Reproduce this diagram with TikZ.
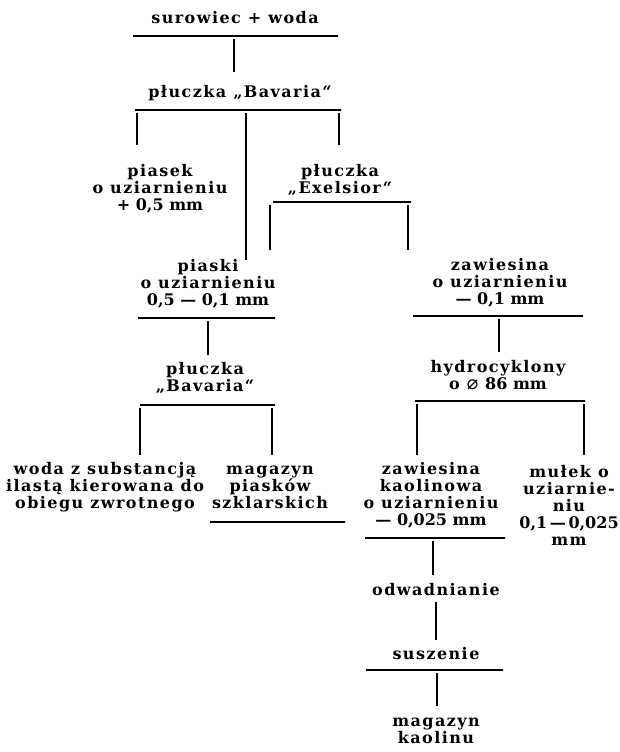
\documentclass[tikz,border=0pt]{standalone}
\usepackage{fontspec}
\setmainfont{DejaVu Serif}[LetterSpace=9]
\newfontfamily\numfont{DejaVu Serif}
\newfontfamily\symfont{DejaVu Sans}
\usetikzlibrary{positioning}

\begin{document}
\begin{tikzpicture}[x=1pt, y=-1pt,
    txt/.style={align=center, inner sep=0pt, font=\fontsize{16}{17}\selectfont\bfseries},
    rul/.style={draw, line width=1.1pt, inner sep=0pt, minimum height=0pt},
    con/.style={draw, line width=1.1pt, shorten <=3pt}
]
    \useasboundingbox (0,0) rectangle (619,752);

    % text
    \node[txt] (top)    at (235,18)  {surowiec + woda};
    \node[txt] (bav1)   at (240,93)  {płuczka „Bavaria“};
    \node[txt] (piasek) at (160,189) {piasek\\o uziarnieniu\\{\numfont + 0,5 mm}};
    \node[txt] (exel)   at (340,180) {płuczka\\„Exelsior“};
    \node[txt] (piaski) at (208,284) {piaski\\o uziarnieniu\\{\numfont 0,5 — 0,1 mm}};
    \node[txt] (zaw1)   at (500,283) {zawiesina\\o uziarnieniu\\{\numfont — 0,1 mm}};
    \node[txt] (bav2)   at (205,378) {płuczka\\„Bavaria“};
    \node[txt] (hydro)  at (498,375) {hydrocyklony\\o {\symfont\fontsize{19}{17}\selectfont\mdseries ⌀} {\numfont 86 mm}};
    \node[txt] (woda)   at (105,487) {woda z substancją\\ilastą kierowana do\\obiegu zwrotnego};
    \node[txt] (mag1)   at (270,487) {magazyn\\piasków\\szklarskich};
    \node[txt] (zaw2)   at (431,495) {zawiesina\\kaolinowa\\o uziarnieniu\\{\numfont — 0,025 mm}};
    \node[txt] (mulek)  at (569,505) {mułek o\\uziarnie-\\niu\\{\numfont 0,1\,—\,0,025}\\mm};
    \node[txt] (odw)    at (436,590) {odwadnianie};
    \node[txt] (susz)   at (436,654) {suszenie};
    \node[txt] (mag2)   at (436,731) {magazyn\\kaolinu};

    % rules
    \node[rul, minimum width=205] (r1)  at (235.5,36) {};
    \node[rul, minimum width=206] (r2)  at (238,110)  {};
    \node[rul, minimum width=138] (r3)  at (342,202)  {};
    \node[rul, minimum width=137] (r4)  at (206.5,318) {};
    \node[rul, minimum width=170] (r7)  at (498,316)  {};
    \node[rul, minimum width=135] (r5)  at (207.5,405) {};
    \node[rul, minimum width=170] (r8)  at (500,401)  {};
    \node[rul, minimum width=135] (r6)  at (277.5,522) {};
    \node[rul, minimum width=140] (r9)  at (435,538)  {};
    \node[rul, minimum width=137] (r10) at (434.5,670) {};

    % connector ends
    \coordinate (e1)  at (234,72);
    \coordinate (e2)  at (137,145);
    \coordinate (e3)  at (246,260);
    \coordinate (e4)  at (339,145);
    \coordinate (e5)  at (270,250);
    \coordinate (e6)  at (408,250);
    \coordinate (e7)  at (208,355);
    \coordinate (e8)  at (140,455);
    \coordinate (e9)  at (272,455);
    \coordinate (e10) at (499,352);
    \coordinate (e11) at (417,455);
    \coordinate (e12) at (584,455);
    \coordinate (e13) at (433,575);
    \coordinate (e14) at (437,706);

    % connectors
    \draw[con] (r1 -| e1)   -- (e1);
    \draw[con] (r2 -| e2)   -- (e2);
    \draw[con] (r2 -| e3)   -- (e3);
    \draw[con] (r2 -| e4)   -- (e4);
    \draw[con] (r3 -| e5)   -- (e5);
    \draw[con] (r3 -| e6)   -- (e6);
    \draw[con] (r4 -| e7)   -- (e7);
    \draw[con] (r5 -| e8)   -- (e8);
    \draw[con] (r5 -| e9)   -- (e9);
    \draw[con] (r7 -| e10)  -- (e10);
    \draw[con] (r8 -| e11)  -- (e11);
    \draw[con] (r8 -| e12)  -- (e12);
    \draw[con] (r9 -| e13)  -- (e13);
    \draw[con, shorten <=6pt, shorten >=8pt] (odw) -- (susz);
    \draw[con] (r10 -| e14) -- (e14);
\end{tikzpicture}
\end{document}
